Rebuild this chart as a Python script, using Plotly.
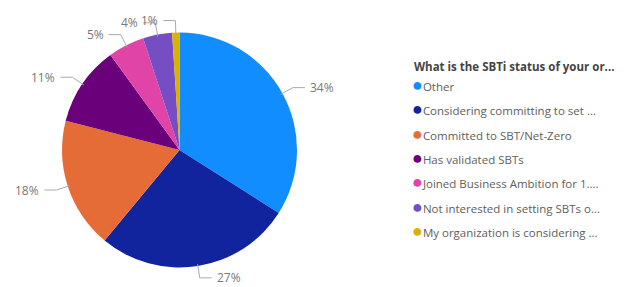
import math
import plotly.graph_objects as go

labels = [
    "Other",
    "Considering committing to set ...",
    "Committed to SBT/Net-Zero",
    "Has validated SBTs",
    "Joined Business Ambition for 1....",
    "Not interested in setting SBTs o...",
    "My organization is considering ...",
]
values = [34, 27, 18, 11, 5, 4, 1]
colors = ["#118DFF", "#12239E", "#E66C37", "#6B007B", "#E044A7", "#744EC2", "#D9B300"]
legend_title = "What is the SBTi status of your or..."

W, H = 627, 287
cx, cy, R = 179.5, 150.0, 117.5  # pixel geometry of the pie
FONT = "Open Sans"

fig = go.Figure()
fig.add_trace(go.Pie(
    labels=labels, values=values, sort=False, direction="clockwise", rotation=0,
    marker=dict(colors=colors, line=dict(width=0)),
    textinfo="none", hoverinfo="label+percent", showlegend=False,
    domain=dict(x=[(cx - R) / W, (cx + R) / W], y=[(H - cy - R) / H, (H - cy + R) / H]),
))

# legend entries: coloured dot + label text
for lab, col in zip(labels, colors):
    fig.add_trace(go.Scatter(
        x=[None], y=[None], mode="lines",
        name=f"<span style='color:{col};font-size:18px'>●</span>{lab}",
        line=dict(color="rgba(0,0,0,0)", width=0),
        legendgroup=lab, showlegend=True,
    ))

total = sum(values)
cum = 0
shapes, annots = [], []
def px(x): return x / W
def py(y): return 1 - y / H
for v in values:
    mid = (cum + v / 2) / total * 2 * math.pi
    cum += v
    s, c = math.sin(mid), -math.cos(mid)
    x0, y0 = cx + (R - 2) * s, cy + (R - 2) * c
    x1, y1 = cx + (R + 12) * s, cy + (R + 12) * c
    side = 1 if s >= 0 else -1
    x2 = x1 + side * 12
    shapes.append(dict(type="path", xref="paper", yref="paper",
                       path=f"M {px(x0)} {py(y0)} L {px(x1)} {py(y1)} L {px(x2)} {py(y1)}",
                       line=dict(color="#AAAAAA", width=1)))
    annots.append(dict(xref="paper", yref="paper", x=px(x2 + side * 3), y=py(y1),
                       text=f"{round(v / total * 100)}%", showarrow=False,
                       xanchor="left" if side > 0 else "right", yanchor="middle",
                       font=dict(size=12, color="#777777", family=FONT)))

annots.append(dict(xref="paper", yref="paper", x=px(412), y=py(67), showarrow=False,
                   xanchor="left", yanchor="middle", text=f"<b>{legend_title}</b>",
                   font=dict(size=11.5, color="#444444", family=FONT)))

fig.update_layout(
    width=W, height=H, margin=dict(l=0, r=0, t=0, b=0, autoexpand=False),
    paper_bgcolor="white", plot_bgcolor="white",
    xaxis=dict(visible=False), yaxis=dict(visible=False),
    shapes=shapes, annotations=annots,
    font=dict(family=FONT, size=11.5, color="#605E5C"),
    legend=dict(
        x=(412 - 40) / W, y=py(72), xanchor="left", yanchor="top",
        tracegroupgap=5.3, itemwidth=30, font=dict(size=11.5, color="#605E5C"),
        bgcolor="rgba(0,0,0,0)",
    ),
)
fig.write_html("out.html", config={"displayModeBar": False},
               post_script="document.body.style.margin='0';document.body.style.padding='0';")
